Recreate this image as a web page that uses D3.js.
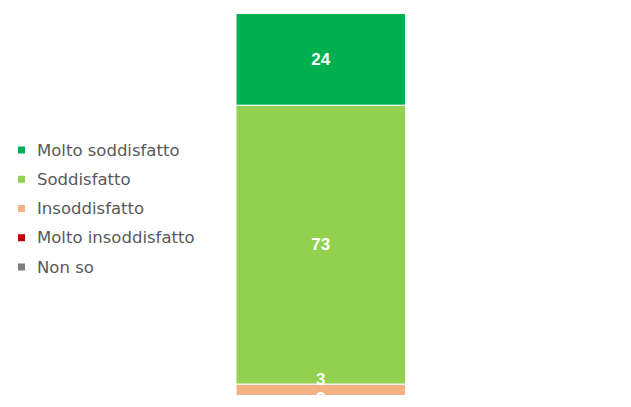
<!DOCTYPE html>
<html>
<head>
<meta charset="utf-8">
<script src="https://cdn.jsdelivr.net/npm/d3@7"></script>
<style>
  html, body { margin: 0; padding: 0; background: #ffffff; }
  svg { display: block; }
</style>
</head>
<body>
<svg id="chart" width="631" height="407"></svg>
<script>
const categories = ["Molto soddisfatto", "Soddisfatto", "Insoddisfatto", "Molto insoddisfatto", "Non so"];
const values = [24, 73, 3, 0, 0];
const colors = ["#00B050", "#92D050", "#F4B183", "#C00000", "#7F7F7F"];
const barGroup = ["Totale"];

const svg = d3.select("#chart");

const x = d3.scaleBand().domain(barGroup).range([236, 405.5]).paddingInner(0).paddingOuter(0);
const y = d3.scaleLinear().domain([0, 100]).range([395.5, 13.5]);

// stack (first category on top)
const stackData = [];
let cum = 0;
for (let i = categories.length - 1; i >= 0; i--) {
  stackData.push({ cat: categories[i], v: values[i], c: colors[i], y0: cum, y1: cum + values[i], idx: i });
  cum += values[i];
}

svg.append("g").selectAll("rect")
  .data(stackData.filter(d => d.v > 0))
  .join("rect")
  .attr("x", x("Totale"))
  .attr("width", x.bandwidth())
  .attr("y", d => y(d.y1))
  .attr("height", d => y(d.y0) - y(d.y1))
  .attr("fill", d => d.c)
  .attr("stroke", "#ffffff")
  .attr("stroke-width", 1);

// data labels
svg.append("g").selectAll("text")
  .data(stackData)
  .join("text")
  .attr("x", x("Totale") + x.bandwidth() / 2)
  .attr("y", d => {
    const mid = (y(d.y0) + y(d.y1)) / 2;
    const h = y(d.y0) - y(d.y1);
    if (d.v === 0) return mid + 3;
    if (h < 20) return mid - 10;
    return mid;
  })
  .attr("text-anchor", "middle")
  .attr("dominant-baseline", "central")
  .attr("font-family", "Liberation Sans, Arial, sans-serif")
  .attr("font-weight", "bold")
  .attr("font-size", "17px")
  .attr("fill", "#ffffff")
  .text(d => d.v);

// legend
const legendY = d3.scalePoint().domain(categories).range([150, 267]);
const lg = svg.append("g");
lg.selectAll("rect")
  .data(categories)
  .join("rect")
  .attr("x", 18)
  .attr("y", d => legendY(d) - 3.5)
  .attr("width", 7)
  .attr("height", 7)
  .attr("fill", (d, i) => colors[i]);
lg.selectAll("text")
  .data(categories)
  .join("text")
  .attr("x", 37)
  .attr("y", d => legendY(d))
  .attr("dominant-baseline", "central")
  .attr("font-family", "DejaVu Sans, sans-serif")
  .attr("font-size", "16.5px")
  .attr("fill", "#595959")
  .text(d => d);
</script>
</body>
</html>
